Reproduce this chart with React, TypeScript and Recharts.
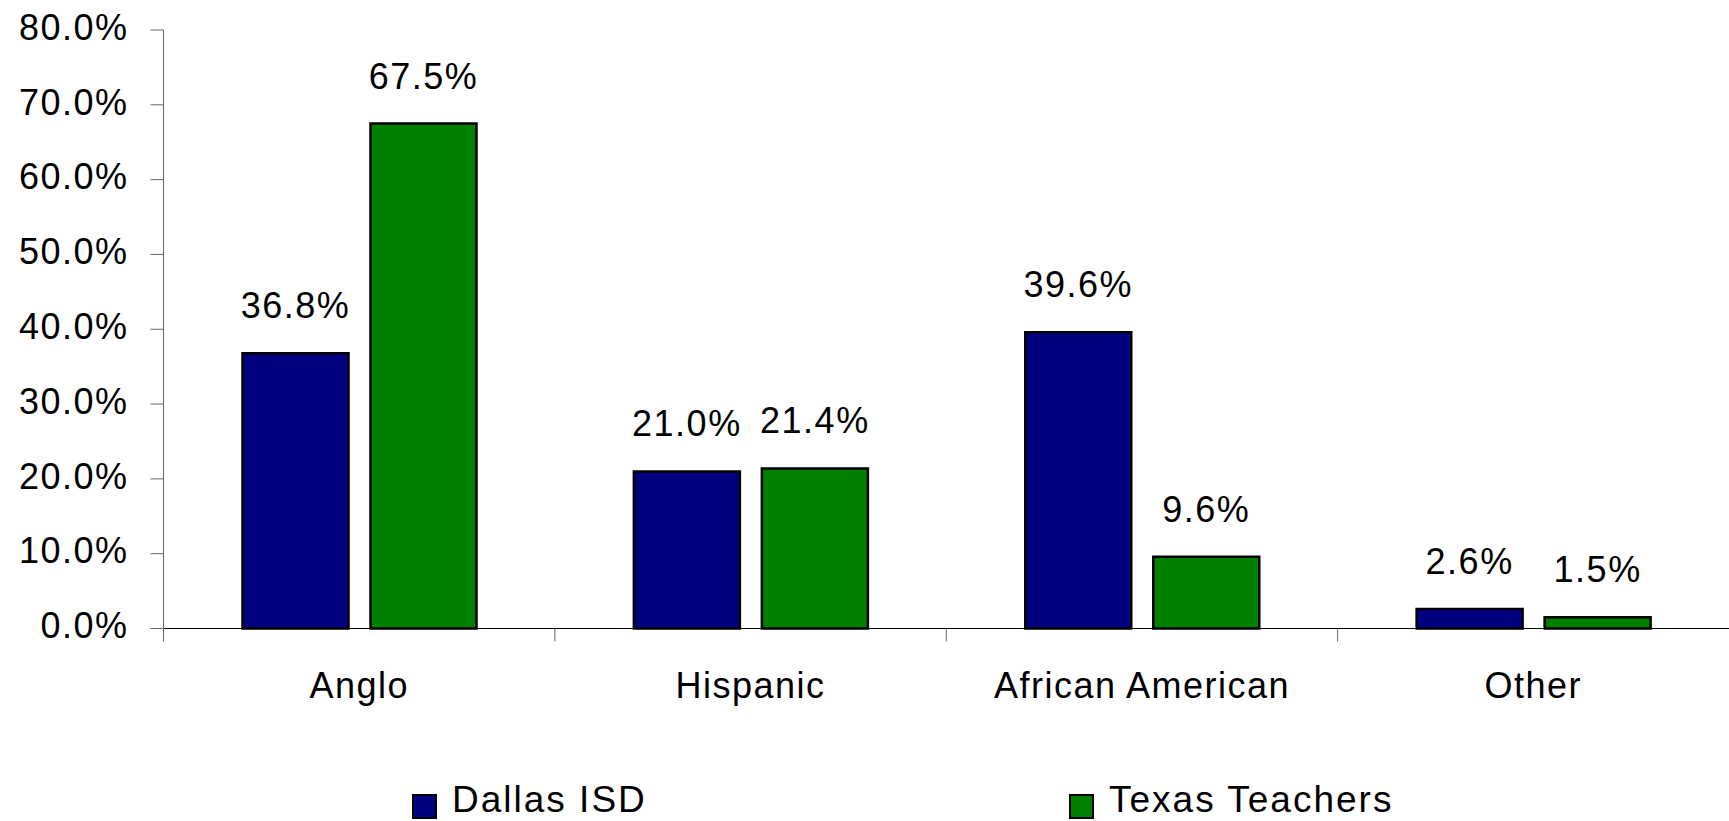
import React from 'react';
import { BarChart, Bar, XAxis, YAxis, LabelList, Legend, Text } from 'recharts';

const categories = ['Anglo', 'Hispanic', 'African American', 'Other'];
const dallasISD = [36.8, 21.0, 39.6, 2.6];
const texasTeachers = [67.5, 21.4, 9.6, 1.5];
const yTicks = [0, 10, 20, 30, 40, 50, 60, 70, 80];
const seriesNames = ['Dallas ISD', 'Texas Teachers'];
const seriesColors = ['#000080', '#008000'];

const data = categories.map((c, i) => ({ category: c, dallas: dallasISD[i], texas: texasTeachers[i] }));

const FONT = '"Liberation Sans", Arial, Helvetica, sans-serif';
const pct = (v: any) => `${Number(v).toFixed(1)}%`;

const X_TICK_MARGIN = 44;
const BOUNDARY_TICK = 13;

const CategoryTick = (props: any) => {
  const { x, y, payload } = props;
  const axisY = y - X_TICK_MARGIN;
  const half = payload && payload.offset ? payload.offset : 0;
  const bx = x - half;
  return (
    <g>
      <line x1={bx} x2={bx} y1={axisY} y2={axisY + BOUNDARY_TICK} stroke="#666" strokeWidth={1} />
      <Text
        x={x}
        y={y}
        textAnchor="middle"
        verticalAnchor="start"
        fill="#000"
        fontSize={36}
        fontFamily={FONT}
        style={{ letterSpacing: 1.5 }}
      >
        {payload.value}
      </Text>
    </g>
  );
};

const renderLegend = (props: any) => {
  const payload = props.payload || [];
  return (
    <div style={{ display: 'flex', paddingLeft: 412, fontFamily: FONT, fontSize: 37, letterSpacing: 2, color: '#000' }}>
      {payload.map((p: any, i: number) => (
        <div key={i} style={{ width: 657, display: 'flex', alignItems: 'flex-start', height: 34 }}>
          <span
            style={{
              display: 'inline-block',
              width: 21,
              height: 21,
              marginTop: 11,
              background: p.color,
              border: '2px solid #000',
              boxSizing: 'content-box',
            }}
          />
          <span style={{ marginLeft: 15, lineHeight: '34px', height: 34, whiteSpace: 'nowrap' }}>{p.value}</span>
        </div>
      ))}
    </div>
  );
};

export default function App() {
  return (
    <div style={{ position: 'absolute', left: 0, top: 0, width: 1729, height: 821, background: '#fff', overflow: 'hidden' }}>
      <BarChart
        width={1729}
        height={821}
        data={data}
        margin={{ top: 30, right: 0, bottom: 112.5, left: 0 }}
        barSize={106}
        barGap={22}
      >
        <XAxis
          dataKey="category"
          type="category"
          height={80}
          interval={0}
          tickLine={false}
          tickSize={0}
          tickMargin={X_TICK_MARGIN}
          axisLine={{ stroke: '#000' }}
          tick={<CategoryTick />}
        />
        <YAxis
          type="number"
          domain={[0, 80]}
          ticks={yTicks}
          width={163.5}
          tickFormatter={pct}
          axisLine={{ stroke: '#666' }}
          tickLine={{ stroke: '#666' }}
          tickSize={13}
          tickMargin={22}
          tick={{ fill: '#000', fontSize: 36, fontFamily: FONT, letterSpacing: 1.5, dy: -3 }}
          interval={0}
        />
        <Bar dataKey="dallas" name={seriesNames[0]} fill={seriesColors[0]} stroke="#000" strokeWidth={2.5} isAnimationActive={false}>
          <LabelList dataKey="dallas" position="top" offset={35} formatter={pct} fill="#000" fontSize={36} fontFamily={FONT} style={{ letterSpacing: 1.5 }} />
        </Bar>
        <Bar dataKey="texas" name={seriesNames[1]} fill={seriesColors[1]} stroke="#000" strokeWidth={2.5} isAnimationActive={false}>
          <LabelList dataKey="texas" position="top" offset={35} formatter={pct} fill="#000" fontSize={36} fontFamily={FONT} style={{ letterSpacing: 1.5 }} />
        </Bar>
        <Legend
          layout="horizontal"
          verticalAlign="middle"
          align="center"
          wrapperStyle={{ top: 783, left: 0, width: 1729 }}
          content={renderLegend}
        />
      </BarChart>
    </div>
  );
}
